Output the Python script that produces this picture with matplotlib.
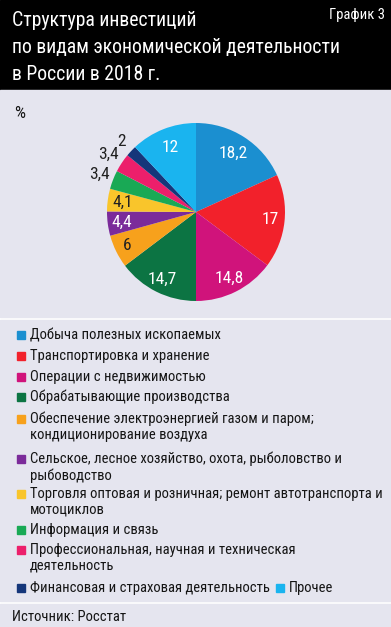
import numpy as np
import matplotlib
matplotlib.use("Agg")
import matplotlib.pyplot as plt
from matplotlib import font_manager as fm
from matplotlib.patches import Rectangle

W, H = 391, 627

# ---- data ----
values = [18.2, 17, 14.8, 14.7, 6, 4.4, 4.1, 3.4, 3.4, 2, 12]
value_labels = ["18,2", "17", "14,8", "14,7", "6", "4,4", "4,1", "3,4", "3,4", "2", "12"]
categories = [
    "Добыча полезных ископаемых",
    "Транспортировка и хранение",
    "Операции с недвижимостью",
    "Обрабатывающие производства",
    "Обеспечение электроэнергией газом и паром;\nкондиционирование воздуха",
    "Сельское, лесное хозяйство, охота, рыболовство и\nрыбоводство",
    "Торговля оптовая и розничная; ремонт автотранспорта и\nмотоциклов",
    "Информация и связь",
    "Профессиональная, научная и техническая\nдеятельность",
    "Финансовая и страховая деятельность",
    "Прочее",
]
colors = ["#1b8fd0", "#f2212b", "#d0137b", "#0c7443", "#f7a11c", "#7b2b9a",
          "#f9c52b", "#19a955", "#ec1f6b", "#15367a", "#1ab4ef"]
label_colors = ["white", "white", "white", "white", "#222222", "white",
                "#222222", "#222222", "#222222", "#222222", "white"]
label_dist = [0.78, 0.84, 0.84, 0.85, 0.86, 0.84, 0.83, 1.17, 1.18, 1.15, 0.78]

title_lines = ["Структура инвестиций",
               "по видам экономической деятельности",
               "в России в 2018 г."]
tag = "График 3"
unit = "%"
source = "Источник: Росстат"

# condensed font if there is one
avail = {f.name for f in fm.fontManager.ttflist}
main_font = next((n for n in ["Roboto Condensed", "PT Sans Narrow",
                              "Liberation Sans Narrow", "Open Sans Condensed"]
                  if n in avail), "DejaVu Sans")
plt.rcParams["font.family"] = [main_font, "DejaVu Sans"]

BG = "#e5e5ef"
TXT = "#151515"


def fx(px):
    return px / W


def fy(py):
    return 1 - py / H


fig = plt.figure(figsize=(W / 100, H / 100), dpi=100)
fig.patch.set_facecolor("white")

# background panels
fig.add_artist(Rectangle((0, fy(90)), 1, 90 / H, transform=fig.transFigure,
                         color="black", zorder=0))
fig.add_artist(Rectangle((0, fy(317)), 1, (317 - 90) / H, transform=fig.transFigure,
                         color=BG, zorder=0))
fig.add_artist(Rectangle((0, fy(601)), 1, (601 - 320) / H, transform=fig.transFigure,
                         color=BG, zorder=0))
fig.add_artist(Rectangle((0, 0), 1, (H - 604) / H, transform=fig.transFigure,
                         color=BG, zorder=0))

# header
for i, line in enumerate(title_lines):
    fig.text(fx(12), fy(20 + i * 27.5), line, color="white", fontsize=14.2,
             va="center", ha="left")
fig.text(fx(385), fy(15), tag, color="white", fontsize=10.5, va="center", ha="right")
fig.text(fx(14), fy(113), unit, color=TXT, fontsize=12.5, va="center", ha="left")

# pie
cx, cy, R = 196, 212, 89
ax = fig.add_axes([fx(cx - R), fy(cy + R), 2 * R / W, 2 * R / H])
wedges, _ = ax.pie(values, colors=colors, startangle=90, counterclock=False,
                   radius=1, wedgeprops=dict(linewidth=0))
ax.set_xlim(-1, 1)
ax.set_ylim(-1, 1)
ax.set_aspect("equal")
for w, lab, c, d in zip(wedges, value_labels, label_colors, label_dist):
    ang = np.deg2rad((w.theta1 + w.theta2) / 2)
    ax.text(d * np.cos(ang), d * np.sin(ang), lab, color=c, fontsize=12.5,
            ha="center", va="center", clip_on=False)

# legend
row_y = [335, 356, 377, 397, 419, 459, 494, 530, 550, 588]
for i, y in enumerate(row_y):
    fig.add_artist(Rectangle((fx(17), fy(y + 4)), 8 / W, 8 / H,
                             transform=fig.transFigure, color=colors[i]))
    fig.text(fx(30), fy(y - 7), categories[i], color=TXT, fontsize=10.5,
             va="top", ha="left", linespacing=1.15)
# "Прочее" sits on the same row as the financial item
fig.add_artist(Rectangle((fx(276), fy(592)), 8 / W, 8 / H,
                         transform=fig.transFigure, color=colors[10]))
fig.text(fx(289), fy(581), categories[10], color=TXT, fontsize=10.5,
         va="top", ha="left")

fig.text(fx(12), fy(617), source, color=TXT, fontsize=10.5,
         va="center", ha="left")

fig.savefig("out.png", dpi=100, facecolor=fig.get_facecolor())
